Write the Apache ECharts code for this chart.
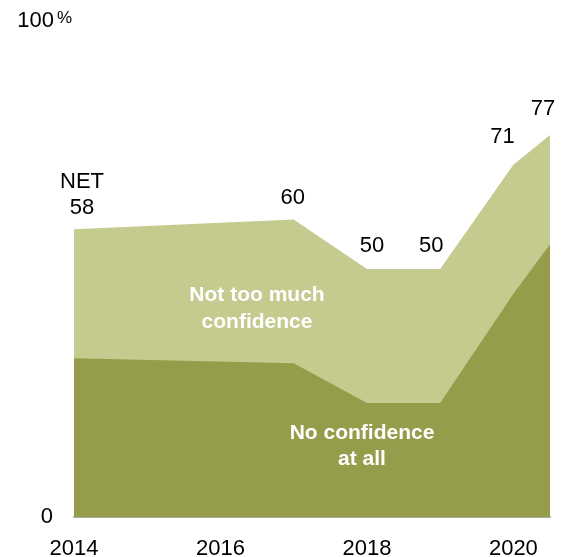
<!DOCTYPE html>
<html>
<head>
<meta charset="utf-8">
<script src="https://cdn.jsdelivr.net/npm/echarts@6/dist/echarts.min.js"></script>
<style>
  html, body { margin: 0; padding: 0; background: #fff; }
  #chart { width: 561px; height: 557px; }
</style>
</head>
<body>
<div id="chart"></div>
<script>
// Survey waves (the last one is a second 2020 wave, placed mid-year)
const years = [2014, 2017, 2018, 2019, 2020, 2020.5];
// Total with little or no confidence (NET)
const net = [58, 60, 50, 50, 71, 77];
// "No confidence at all" share
const noConfidenceAtAll = [32, 31, 23, 23, 45, 55];
// Axis tick labels
const xTicks = [2014, 2016, 2018, 2020];
const yTicks = [0, 100];

const LIGHT = '#c5ca8e';
const DARK = '#959d4b';
const FONT = '"Liberation Sans", Arial, sans-serif';

// Nudges for the value labels so they sit clear of the area outline
const labelNudge = [[8, -8], [-1, -8], [5, -10], [-9, -10], [-11, -14], [-7, -13]];

const netData = years.map((yr, i) => ({
  value: [yr, net[i]],
  label: {
    offset: labelNudge[i],
    formatter: i === 0 ? 'NET\n' + net[i] : String(net[i])
  }
}));
const noneData = years.map((yr, i) => [yr, noConfidenceAtAll[i]]);

const chart = echarts.init(document.getElementById('chart'), null, { renderer: 'canvas' });

chart.setOption({
  animation: false,
  backgroundColor: '#fff',
  grid: { left: 74, right: 11, top: 21, bottom: 40, outerBoundsMode: 'none', containLabel: false },
  xAxis: {
    type: 'value',
    min: 2014,
    max: 2020.5,
    interval: 2,
    axisLine: { show: true, lineStyle: { color: '#a6a6a6', width: 2 } },
    axisTick: { show: false },
    splitLine: { show: false },
    axisLabel: {
      margin: 21,
      showMaxLabel: false,
      color: '#000',
      fontFamily: FONT,
      fontSize: 22,
      formatter: v => xTicks.includes(v) ? String(v) : ''
    }
  },
  yAxis: {
    type: 'value',
    min: 0,
    max: 100,
    interval: 100,
    axisLine: { show: false },
    axisTick: { show: false },
    splitLine: { show: false },
    axisLabel: {
      margin: 2,
      color: '#000',
      fontFamily: FONT,
      fontSize: 22,
      formatter: v => {
        if (!yTicks.includes(v)) return '';
        return v === 100 ? '{n|100}{p|%}' : '{n|' + v + '}{gap| }';
      },
      rich: {
        n: { fontSize: 22, fontFamily: FONT, color: '#000' },
        p: { fontSize: 17, fontFamily: FONT, color: '#000', padding: [0, 0, 6, 3] },
        gap: { width: 19 }
      }
    }
  },
  series: [
    {
      name: 'Not too much confidence',
      type: 'line',
      data: netData,
      showSymbol: true,
      symbol: 'circle',
      symbolSize: 1,
      itemStyle: { color: 'rgba(0,0,0,0)' },
      lineStyle: { width: 0 },
      areaStyle: { color: LIGHT, opacity: 1, origin: 'start' },
      label: {
        show: true,
        position: 'top',
        distance: 0,
        color: '#000',
        fontFamily: FONT,
        fontSize: 22,
        lineHeight: 26,
        align: 'center'
      },
      z: 2
    },
    {
      name: 'No confidence at all',
      type: 'line',
      data: noneData,
      showSymbol: false,
      symbol: 'none',
      lineStyle: { width: 0 },
      areaStyle: { color: DARK, opacity: 1, origin: 'start' },
      z: 3
    }
  ],
  graphic: [
    {
      type: 'text',
      style: {
        text: 'Not too much\nconfidence',
        x: 257, y: 309,
        fill: '#fff',
        font: 'bold 21px ' + FONT,
        lineHeight: 27,
        align: 'center',
        verticalAlign: 'middle'
      },
      z: 10
    },
    {
      type: 'text',
      style: {
        text: 'No confidence\nat all',
        x: 362, y: 446,
        fill: '#fff',
        font: 'bold 21px ' + FONT,
        lineHeight: 26,
        align: 'center',
        verticalAlign: 'middle'
      },
      z: 10
    }
  ]
});
</script>
</body>
</html>
